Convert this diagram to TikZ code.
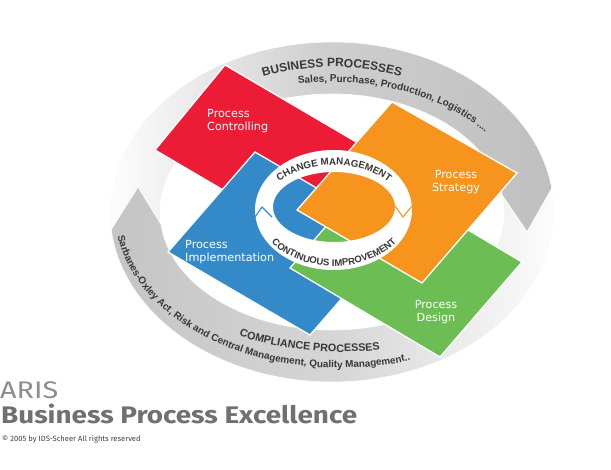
\documentclass[tikz,border=0pt]{standalone}
\usepackage{fontspec}
\setmainfont{DejaVu Sans}
\newfontfamily\arialbf{Liberation Sans}
\newfontfamily\fira{Fira Sans}
\usetikzlibrary{decorations.text}
\definecolor{cred}{RGB}{237,28,54}
\definecolor{corange}{RGB}{247,148,30}
\definecolor{cblue}{RGB}{52,138,200}
\definecolor{cgreen}{RGB}{108,190,84}
\definecolor{ctext}{RGB}{55,55,55}
\definecolor{arisgray}{RGB}{140,140,140}
\definecolor{titlegray}{RGB}{112,112,112}
\begin{document}
\begin{tikzpicture}[x=1pt,y=-1pt,
  sq/.style={draw=white, line width=1.3pt, line join=miter},
  lab/.style={text=white, font=\fontsize{11.2}{12.8}\selectfont, inner sep=0pt},
  bigring/.style={draw=white, line width=0.6pt},
]
\useasboundingbox (0,0) rectangle (611,470);
\coordinate (C) at (332,212);
\coordinate (S) at (340,212);
\coordinate (K) at (334,209);
% upper big arrow
\path[bigring, left color=white, right color=gray!50, middle color=gray!38]
  ([shift={(C)}]174:222 and 170) arc[start angle=174, end angle=352, x radius=222, y radius=170]
  -- ([shift={(C)}]368:197 and 144)
  -- ([shift={(C)}]352:172 and 118) arc[start angle=352, end angle=174, x radius=172, y radius=118]
  -- ([shift={(C)}]190:197 and 144) -- cycle;
% lower big arrow
\path[bigring, left color=gray!46, right color=white, middle color=gray!32]
  ([shift={(C)}]-8:222 and 170) arc[start angle=-8, end angle=174, x radius=222, y radius=170]
  -- ([shift={(C)}]190:197 and 144)
  -- ([shift={(C)}]174:172 and 118) arc[start angle=174, end angle=-8, x radius=172, y radius=118]
  -- ([shift={(C)}]8:197 and 144) -- cycle;
% big ring texts
\path[decorate, decoration={text along path, text color=ctext, text align=center,
  text={|\arialbf\bfseries\fontsize{12}{12}\selectfont|BUSINESS PROCESSES}}]
  ([shift={(C)}]200:190 and 145) arc[start angle=200, end angle=340, x radius=190, y radius=145];
\path[decorate, decoration={text along path, text color=ctext, text align=left,
  text={|\arialbf\bfseries\fontsize{10}{10}\selectfont|Sales, Purchase, Production, Logistics ....}}]
  ([shift={(C)}]260:194 and 130) arc[start angle=260, end angle=358, x radius=194, y radius=130];
\path[decorate, decoration={text along path, text color=ctext, text align=left,
  text={|\arialbf\bfseries\fontsize{10.8}{10.8}\selectfont|COMPLIANCE PROCESSES}}]
  ([shift={(S)}]118:215 and 140) arc[start angle=118, end angle=40, x radius=215, y radius=140];
\path[decorate, decoration={text along path, text color=ctext, text align=left,
  text={|\arialbf\bfseries\fontsize{9.9}{9.9}\selectfont|Sarbanes-Oxley Act, Risk and Central Management, Quality Management..}}]
  ([shift={(S)}]171:225 and 156) arc[start angle=171, end angle=30, x radius=225, y radius=156];
% squares
\filldraw[sq, fill=cred] (225,65) -- (375,153) -- (305,238) -- (155,150) -- cycle;
\filldraw[sq, fill=cblue] (255,152) -- (397,235) -- (310,335) -- (168,252) -- cycle;
\filldraw[sq, fill=cgreen] (372,173) -- (522,262) -- (440,357) -- (290,268) -- cycle;
\filldraw[sq, fill=corange] (392,102) -- (517,173) -- (422,283) -- (297,210) -- cycle;
% small ring
\fill[white, even odd rule] (333.5,210) ellipse[x radius=78.5, y radius=60] (334,207) ellipse[x radius=61, y radius=35];
\draw[cblue, line width=1.1pt] (255,217) -- (262,207) -- (272,217);
\draw[corange, line width=1.1pt] (395,206) -- (403,217) -- (412,206);
\path[decorate, decoration={text along path, text color=ctext, text align=center,
  text={|\arialbf\bfseries\fontsize{9.8}{9.8}\selectfont|CHANGE MANAGEMENT}}]
  ([shift={(K)}]200:69 and 44) arc[start angle=200, end angle=340, x radius=69, y radius=44];
\path[decorate, decoration={text along path, text color=ctext, text align=center,
  text={|\arialbf\bfseries\fontsize{9.5}{9.5}\selectfont|CONTINUOUS IMPROVEMENT}}]
  ([shift={(K)}]165:77 and 57) arc[start angle=165, end angle=15, x radius=77, y radius=57];
% labels
\node[lab, align=left, anchor=west] (lc) at (207,121) {Process\\Controlling};
\node[lab, align=center] (ls) at (456,182) {Process\\Strategy};
\node[lab, align=left, anchor=west] (li) at (185,252) {Process\\Implementation};
\node[lab, align=center] (ld) at (436,312) {Process\\Design};
% bottom texts
\node[anchor=base west, inner sep=0, text=arisgray, font=\fira\fontsize{24}{24}\selectfont] (aris) at (0,399) {\scalebox{1.2}[1]{ARIS}};
\node[anchor=base west, inner sep=0, text=titlegray, font=\fira\bfseries\fontsize{24}{24}\selectfont] (bpe) at (1,424) {\scalebox{1.16}[1]{Business Process Excellence}};
\node[anchor=base west, inner sep=0, text=black!75, font=\fira\fontsize{7.6}{8}\selectfont] (copy) at (2,442) {© 2005 by IDS-Scheer All rights reserved};
\end{tikzpicture}
\end{document}
